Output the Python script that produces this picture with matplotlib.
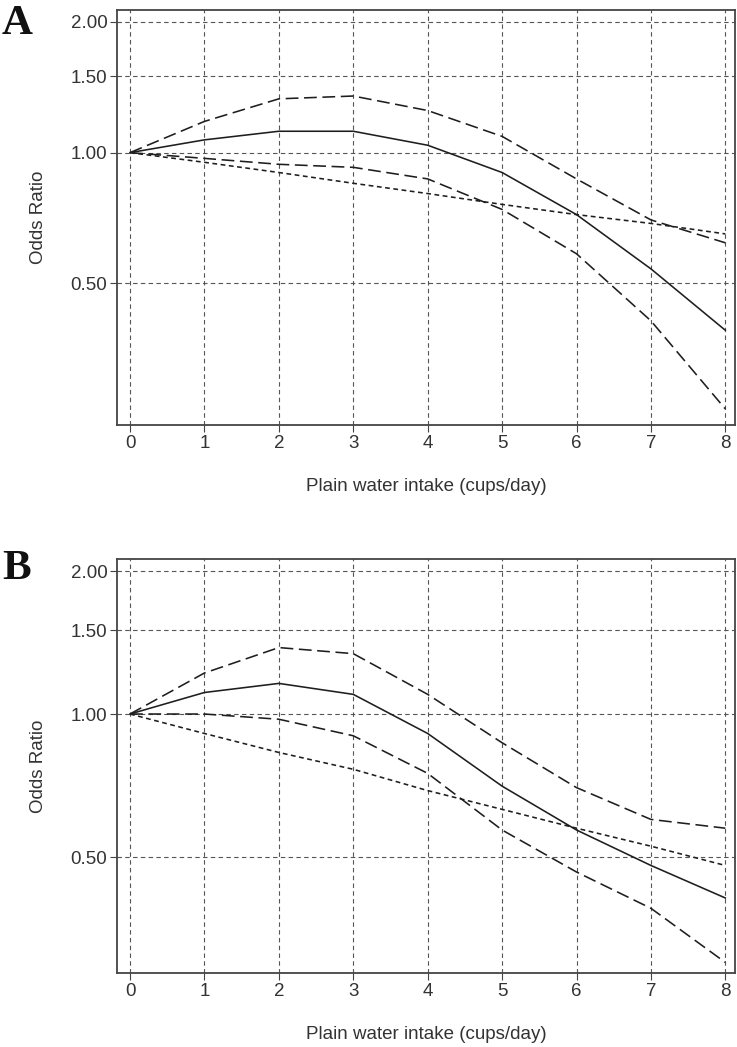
import matplotlib
matplotlib.use('Agg')
import matplotlib.pyplot as plt
from matplotlib.ticker import FixedLocator, NullLocator

# Data (odds ratio by cups/day of plain water)
cups = [0, 1, 2, 3, 4, 5, 6, 7, 8]

a_or = [1.00, 1.07, 1.12, 1.12, 1.04, 0.90, 0.72, 0.54, 0.39]
a_upper = [1.00, 1.18, 1.33, 1.35, 1.25, 1.09, 0.87, 0.70, 0.62]
a_lower = [1.00, 0.97, 0.94, 0.925, 0.87, 0.74, 0.585, 0.41, 0.257]
a_ref = [1.00, 0.95, 0.90, 0.85, 0.805, 0.76, 0.72, 0.687, 0.65]

b_or = [1.00, 1.11, 1.16, 1.10, 0.91, 0.705, 0.57, 0.48, 0.41]
b_upper = [1.00, 1.22, 1.38, 1.34, 1.10, 0.87, 0.70, 0.60, 0.575]
b_lower = [1.00, 1.00, 0.975, 0.90, 0.75, 0.57, 0.465, 0.39, 0.30]
b_ref = [1.00, 0.91, 0.83, 0.765, 0.69, 0.63, 0.575, 0.527, 0.48]

y_ticks = [0.50, 1.00, 1.50, 2.00]
y_tick_labels = ['0.50', '1.00', '1.50', '2.00']

plt.rcParams['font.family'] = ['Liberation Sans', 'DejaVu Sans']

W, H = 737, 1047
fig = plt.figure(figsize=(W / 100, H / 100), dpi=100)

line_col = '#1e1e1e'
grid_col = '#555555'
text_col = '#333333'


def panel(top_px, bottom_px, ylim, odds, upper, lower, ref, letter, letter_top):
    ax = fig.add_axes([117 / W, 1 - bottom_px / H, 618 / W, (bottom_px - top_px) / H])
    ax.set_yscale('log')
    ax.set_xlim(-0.175, 8.13)
    ax.set_ylim(*ylim)

    # grid
    for x in cups:
        ax.axvline(x, color=grid_col, lw=0.8, ls=(0, (4, 3)), zorder=1)
    for y in y_ticks:
        ax.axhline(y, color=grid_col, lw=0.8, ls=(0, (4, 3)), zorder=1)

    # curves
    ax.plot(cups, odds, color=line_col, lw=1.15, ls='-', zorder=3)
    ax.plot(cups, upper, color=line_col, lw=1.15, ls=(0, (8, 3.5)), zorder=3)
    ax.plot(cups, lower, color=line_col, lw=1.15, ls=(0, (8, 3.5)), zorder=3)
    ax.plot(cups, ref, color=line_col, lw=1.15, ls=(0, (3, 2.2)), zorder=3)

    ax.yaxis.set_major_locator(FixedLocator(y_ticks))
    ax.yaxis.set_minor_locator(NullLocator())
    ax.set_yticklabels(y_tick_labels)
    ax.set_xticks(cups)
    ax.tick_params(axis='both', direction='out', length=5, width=0.8,
                   color='#444444', labelsize=13.5, labelcolor=text_col, pad=2)

    for s in ax.spines.values():
        s.set_color('#444444')
        s.set_linewidth(1.3)

    ax.set_ylabel('Odds Ratio', fontsize=13.5, color=text_col)
    ax.yaxis.set_label_coords(-0.114, 0.5)
    ax.set_xlabel('Plain water intake (cups/day)', fontsize=13.5, color=text_col)
    ax.xaxis.set_label_coords(0.5, -0.128)

    fig.text(2 / W, 1 - letter_top / H, letter, ha='left', va='top',
             family='Liberation Serif', fontweight='bold', fontsize=31, color='#111111')
    return ax


panel(10, 425, (0.236, 2.13), a_or, a_upper, a_lower, a_ref, 'A', 5)
panel(559, 973, (0.285, 2.12), b_or, b_upper, b_lower, b_ref, 'B', 550)

fig.savefig('out.png', dpi=100)
